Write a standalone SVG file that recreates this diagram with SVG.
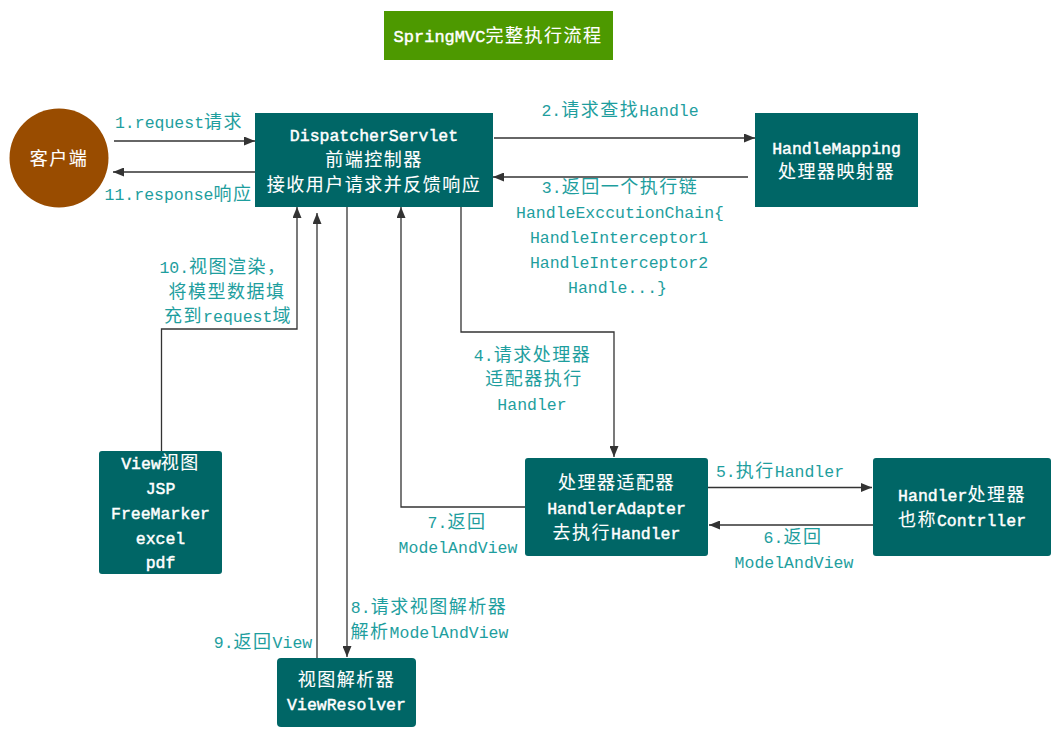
<svg xmlns="http://www.w3.org/2000/svg" width="1062" height="735" viewBox="0 0 1062 735">
<style>
.n{font-family:"Liberation Mono","Noto Sans CJK SC",monospace;font-size:16.5px;fill:#fff;stroke:#fff;stroke-width:0.45px;text-anchor:middle}
.l{font-family:"Liberation Mono","Noto Sans CJK SC",monospace;font-size:16.5px;fill:#1e9e9e;text-anchor:middle}
.c{font-family:"Noto Sans CJK SC",sans-serif;font-size:18px;font-weight:normal;letter-spacing:1.5px}
.n .c{stroke-width:0.1px}
.box{fill:#006666}
.cn{fill:none;stroke:#333;stroke-width:1.3}
</style>
<defs>
<marker id="ah" viewBox="0 0 11 9" refX="11" refY="4.5" markerWidth="11" markerHeight="9" markerUnits="userSpaceOnUse" orient="auto">
<path d="M0,0 L11,4.5 L0,9 z" fill="#333"/>
</marker>
</defs>
<rect width="1062" height="735" fill="#fff"/>

<g id="title">
<rect x="384" y="11" width="229" height="49" fill="#4d9900"/>
<text class="n" x="498" y="42" style="font-size:17px">SpringMVC<tspan class="c">完整执行流程</tspan></text>
</g>

<g id="connectors">
<path class="cn" d="M114,141 H255" marker-end="url(#ah)"/>
<path class="cn" d="M255,172 H113" marker-end="url(#ah)"/>
<path class="cn" d="M494,138 H755" marker-end="url(#ah)"/>
<path class="cn" d="M748,177 H493" marker-end="url(#ah)"/>
<path class="cn" d="M161.5,451 V329 H297 V207" marker-end="url(#ah)"/>
<path class="cn" d="M317,658 V213" marker-end="url(#ah)"/>
<path class="cn" d="M347,207 V657" marker-end="url(#ah)"/>
<path class="cn" d="M525,507 H401 V207" marker-end="url(#ah)"/>
<path class="cn" d="M461,207 V332 H614 V457" marker-end="url(#ah)"/>
<path class="cn" d="M708,487.5 H872" marker-end="url(#ah)"/>
<path class="cn" d="M873,525 H709" marker-end="url(#ah)"/>
</g>

<g id="labels">
<text class="l" x="179" y="128">1.request<tspan class="c">请求</tspan></text>
<text class="l" x="178.5" y="200">11.response<tspan class="c">响应</tspan></text>
<text class="l" x="620" y="116">2.<tspan class="c">请求查找</tspan>Handle</text>
<text class="l" x="620" y="193">3.<tspan class="c">返回一个执行链</tspan></text>
<text class="l" x="620" y="218">HandleExccutionChain{</text>
<text class="l" x="619" y="243">HandleInterceptor1</text>
<text class="l" x="619" y="268">HandleInterceptor2</text>
<text class="l" x="617.5" y="293">Handle...}</text>
<text class="l" x="223" y="273">10.<tspan class="c">视图渲染，</tspan></text>
<text class="l" x="227" y="298"><tspan class="c">将模型数据填</tspan></text>
<text class="l" x="228" y="322"><tspan class="c">充到</tspan>request<tspan class="c">域</tspan></text>
<text class="l" x="532.5" y="361">4.<tspan class="c">请求处理器</tspan></text>
<text class="l" x="534" y="385"><tspan class="c">适配器执行</tspan></text>
<text class="l" x="532" y="410">Handler</text>
<text class="l" x="780" y="477">5.<tspan class="c">执行</tspan>Handler</text>
<text class="l" x="793" y="543">6.<tspan class="c">返回</tspan></text>
<text class="l" x="794" y="568">ModelAndView</text>
<text class="l" x="457" y="528">7.<tspan class="c">返回</tspan></text>
<text class="l" x="458" y="553">ModelAndView</text>
<text class="l" x="429" y="613">8.<tspan class="c">请求视图解析器</tspan></text>
<text class="l" x="429.5" y="638"><tspan class="c">解析</tspan>ModelAndView</text>
<text class="l" x="263" y="648">9.<tspan class="c">返回</tspan>View</text>
</g>

<g id="client">
<circle cx="59" cy="158" r="49.5" fill="#994c00"/>
<text class="n" x="59" y="165"><tspan class="c">客户端</tspan></text>
</g>

<g id="dispatcher">
<rect class="box" x="255" y="113" width="238" height="94"/>
<text class="n" x="374" y="141">DispatcherServlet</text>
<text class="n" x="374" y="166"><tspan class="c">前端控制器</tspan></text>
<text class="n" x="374" y="191"><tspan class="c">接收用户请求并反馈响应</tspan></text>
</g>

<g id="handlemapping">
<rect class="box" x="755" y="113" width="163" height="94"/>
<text class="n" x="836.5" y="154">HandleMapping</text>
<text class="n" x="836.5" y="178"><tspan class="c">处理器映射器</tspan></text>
</g>

<g id="view">
<rect class="box" x="99" y="451" width="123" height="123" rx="3"/>
<text class="n" x="160.5" y="469">View<tspan class="c">视图</tspan></text>
<text class="n" x="160.5" y="494">JSP</text>
<text class="n" x="160.5" y="519">FreeMarker</text>
<text class="n" x="160.5" y="544">excel</text>
<text class="n" x="160.5" y="568">pdf</text>
</g>

<g id="adapter">
<rect class="box" x="525" y="458" width="183" height="98" rx="3"/>
<text class="n" x="616.5" y="489"><tspan class="c">处理器适配器</tspan></text>
<text class="n" x="616.5" y="514">HandlerAdapter</text>
<text class="n" x="616.5" y="539"><tspan class="c">去执行</tspan>Handler</text>
</g>

<g id="handler">
<rect class="box" x="873" y="458" width="178" height="98" rx="3"/>
<text class="n" x="962" y="501">Handler<tspan class="c">处理器</tspan></text>
<text class="n" x="962" y="526"><tspan class="c">也称</tspan>Contrller</text>
</g>

<g id="viewresolver">
<rect class="box" x="277" y="658" width="139" height="69" rx="4"/>
<text class="n" x="346.5" y="686"><tspan class="c">视图解析器</tspan></text>
<text class="n" x="346.5" y="710">ViewResolver</text>
</g>
</svg>
